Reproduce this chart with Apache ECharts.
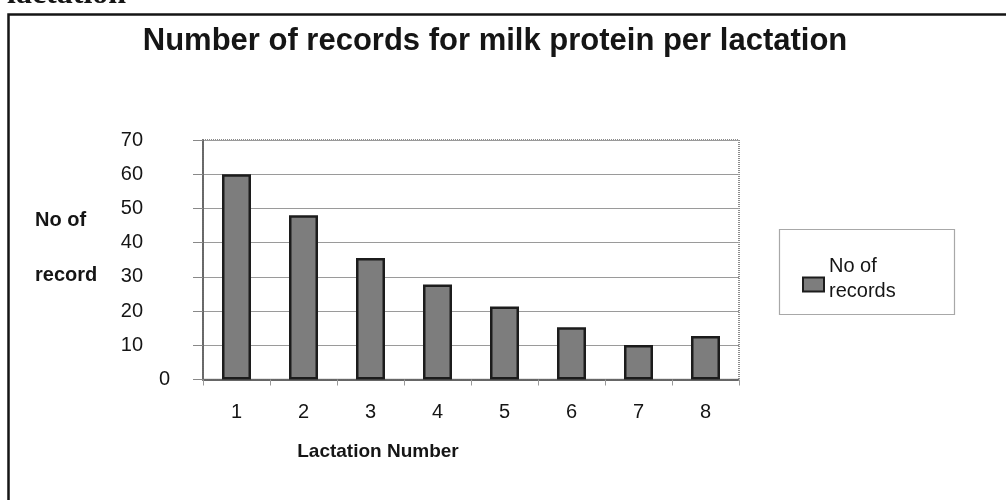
<!DOCTYPE html>
<html>
<head>
<meta charset="utf-8">
<script src="https://cdn.jsdelivr.net/npm/echarts@6/dist/echarts.min.js"></script>
<style>html,body{margin:0;padding:0;background:#fff}#c{width:1006px;height:500px}</style>
</head>
<body>
<div id="c"></div>
<script>
const categories = ['1', '2', '3', '4', '5', '6', '7', '8'];
const records = [60, 48, 35.5, 27.8, 21.3, 15.3, 10.1, 12.7];
const yMin = 0, yMax = 70, yStep = 10;
const titleText = 'Number of records for milk protein per lactation';
const seriesName = 'No of\nrecords';
const xName = 'Lactation Number';
const yName = 'No of\nrecord';
const headingText = 'lactation';

const FONT = '"Liberation Sans", Arial, sans-serif';
const richLines = (txt, spacer) => txt.split('\n').map(s => '{a|' + s + '}').join('\n') + '\n{s| }';
const chart = echarts.init(document.getElementById('c'), null, {renderer: 'canvas'});
chart.setOption({
  backgroundColor: '#ffffff',
  animation: false,
  title: {
    text: titleText,
    left: 490, top: 21, textAlign: 'center',
    textStyle: {fontFamily: FONT, fontSize: 31, fontWeight: 'bold', color: '#151515'}
  },
  graphic: [
    {type: 'rect', silent: true, shape: {x: 8.5, y: 14.5, width: 1200, height: 700},
     style: {fill: 'none', stroke: '#151515', lineWidth: 2.5}},
    {type: 'text', silent: true, style: {text: headingText, x: 7, y: -5,
      font: 'bold 32px "Liberation Serif", "Times New Roman", serif', fill: '#151515',
      textVerticalAlign: 'middle'}},
    {type: 'rect', silent: true, shape: {x: 779.5, y: 229.5, width: 175, height: 85},
     style: {fill: 'none', stroke: '#a8a8a8', lineWidth: 1.2}}
  ],
  legend: {
    show: true, orient: 'vertical', left: 802, top: 256, padding: 0,
    itemWidth: 21, itemHeight: 14, icon: 'rect',
    formatter: name => richLines(name),
    textStyle: {fontFamily: FONT, fontSize: 20, color: '#151515',
      rich: {
        a: {fontFamily: FONT, fontSize: 20, color: '#151515', lineHeight: 25},
        s: {fontSize: 1, lineHeight: 12}
      }},
    data: [seriesName]
  },
  grid: {left: 203, right: 267, top: 140, bottom: 120.5, show: true,
    borderColor: '#8c8c8c', borderWidth: 2, borderType: [1, 1]},
  xAxis: {
    type: 'category', data: categories, boundaryGap: true,
    name: xName, nameLocation: 'middle', nameGap: 63,
    nameTextStyle: {fontFamily: FONT, fontSize: 19, fontWeight: 'bold', color: '#151515', padding: [0, 186, 0, 0]},
    axisLine: {lineStyle: {color: '#666', width: 2, type: [1, 1]}},
    axisTick: {show: true, length: 6, lineStyle: {color: '#999'}},
    axisLabel: {fontFamily: FONT, fontSize: 20, color: '#151515', margin: 23},
    splitLine: {show: false}
  },
  yAxis: [
    {
      type: 'value', min: yMin, max: yMax, interval: yStep,
      name: richLines(yName), nameLocation: 'middle', nameGap: 168, nameRotate: 0,
      nameTextStyle: {fontFamily: FONT, fontSize: 20, fontWeight: 'bold', color: '#151515',
        align: 'left',
        rich: {
          a: {fontFamily: FONT, fontSize: 20, fontWeight: 'bold', color: '#151515', lineHeight: 55},
          s: {fontSize: 1, lineHeight: 24}
        }},
      axisLine: {show: true, lineStyle: {color: '#666', width: 2, type: [1, 1]}},
      axisTick: {show: true, length: 10, lineStyle: {color: '#888'}},
      axisLabel: {fontFamily: FONT, fontSize: 20, color: '#151515', margin: 60,
        formatter: v => (v === 0 ? '' : String(v))},
      splitLine: {show: true, lineStyle: {color: '#9a9a9a', width: 1}}
    },
    {
      type: 'value', min: yMin, max: yMax, interval: yStep, position: 'left',
      axisLine: {show: false}, axisTick: {show: false}, splitLine: {show: false},
      axisLabel: {fontFamily: FONT, fontSize: 20, color: '#151515', margin: 33,
        formatter: v => (v === 0 ? '0' : '')}
    }
  ],
  series: [{
    name: seriesName, type: 'bar', yAxisIndex: 0, data: records, barWidth: 29,
    itemStyle: {color: '#7d7d7d', borderColor: '#1c1c1c', borderWidth: 2.5}
  }]
});
</script>
</body>
</html>
